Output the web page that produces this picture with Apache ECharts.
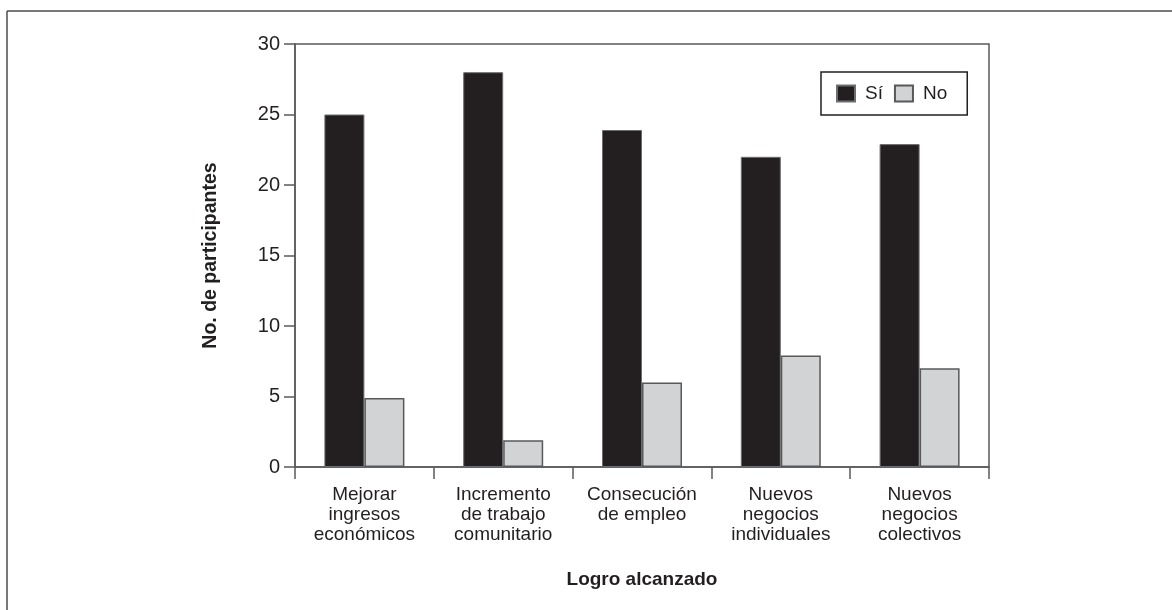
<!DOCTYPE html>
<html>
<head>
<meta charset="utf-8">
<script src="https://cdn.jsdelivr.net/npm/echarts@6/dist/echarts.min.js"></script>
<style>
html,body{margin:0;padding:0;background:#fff;}
#c{width:1172px;height:610px;}
</style>
</head>
<body>
<div id="c"></div>
<script>
const categories = [
  "Mejorar\ningresos\neconómicos",
  "Incremento\nde trabajo\ncomunitario",
  "Consecución\nde empleo",
  "Nuevos\nnegocios\nindividuales",
  "Nuevos\nnegocios\ncolectivos"
];
const siValues = [25, 28, 23.9, 22, 22.9];
const noValues = [4.9, 1.9, 6, 7.9, 7];
const seriesNames = ["Sí", "No"];
const yTitle = "No. de participantes";
const xTitle = "Logro alcanzado";

const FONT = "'Liberation Sans', Arial, sans-serif";
const AXIS = "#58595b";

const chart = echarts.init(document.getElementById('c'), null, {renderer: 'canvas'});
chart.setOption({
  backgroundColor: '#ffffff',
  animation: false,
  grid: {
    left: 295, right: 183, top: 44, bottom: 143,
    show: true, borderColor: AXIS, borderWidth: 1.5, backgroundColor: 'transparent'
  },
  legend: {
    data: seriesNames,
    left: 821, top: 72,
    orient: 'horizontal',
    itemWidth: 18, itemHeight: 16, itemGap: 11,
    padding: [12, 20, 12, 15],
    borderColor: '#231f20', borderWidth: 1.5,
    icon: 'rect',
    textStyle: {fontFamily: FONT, fontSize: 19, color: '#231f20', padding: [2, 0, 0, 5]}
  },
  xAxis: {
    type: 'category',
    data: categories,
    name: xTitle,
    nameLocation: 'middle',
    nameGap: 103,
    nameTextStyle: {fontFamily: FONT, fontWeight: 'bold', fontSize: 19, color: '#231f20'},
    axisLine: {show: true, lineStyle: {color: AXIS, width: 1.5}},
    axisTick: {show: true, length: 12, alignWithLabel: false, lineStyle: {color: AXIS, width: 1.5}},
    axisLabel: {fontFamily: FONT, fontSize: 19, lineHeight: 20, color: '#231f20', margin: 18, interval: 0}
  },
  yAxis: {
    type: 'value',
    min: 0, max: 30, interval: 5,
    name: yTitle,
    nameLocation: 'middle',
    nameGap: 74,
    nameRotate: 90,
    nameTextStyle: {fontFamily: FONT, fontWeight: 'bold', fontSize: 19.5, color: '#231f20'},
    axisLine: {show: true, lineStyle: {color: AXIS, width: 1.5}},
    axisTick: {show: true, length: 11, inside: false, lineStyle: {color: AXIS, width: 1.5}},
    splitLine: {show: false},
    axisLabel: {fontFamily: FONT, fontSize: 20, color: '#231f20', margin: 15}
  },
  series: [
    {
      name: seriesNames[0], type: 'bar', data: siValues,
      barWidth: 40, barGap: '0%',
      itemStyle: {color: '#231f20', borderColor: '#6d6e71', borderWidth: 1}
    },
    {
      name: seriesNames[1], type: 'bar', data: noValues,
      barWidth: 40, barGap: '0%',
      itemStyle: {color: '#d1d3d4', borderColor: '#58595b', borderWidth: 1.5}
    }
  ],
  graphic: [
    {type: 'line', shape: {x1: 7, y1: 11, x2: 1172, y2: 11}, style: {stroke: '#4d4d4f', lineWidth: 1.5}},
    {type: 'line', shape: {x1: 7, y1: 11, x2: 7, y2: 610}, style: {stroke: '#4d4d4f', lineWidth: 1.5}}
  ]
});
</script>
</body>
</html>
